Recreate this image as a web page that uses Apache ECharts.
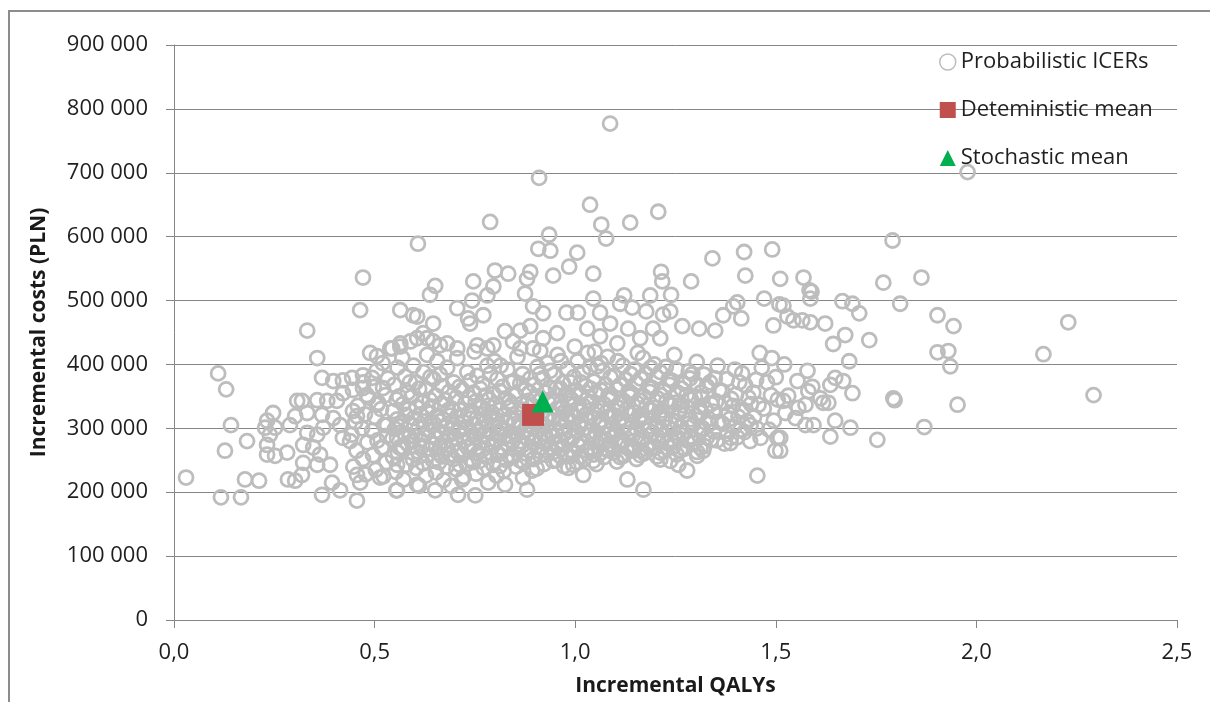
<!DOCTYPE html>
<html>
<head>
<meta charset="utf-8">
<script src="https://cdn.jsdelivr.net/npm/echarts@6/dist/echarts.min.js"></script>
<style>
html, body { margin: 0; padding: 0; background: #fff; }
#main { width: 1210px; height: 702px; }
</style>
</head>
<body>
<div id="main"></div>
<script>
var seriesNames = ['Probabilistic ICERs', 'Deteministic mean', 'Stochastic mean'];

var probLeft = [
    [0.030,223000],[0.110,386000],[0.130,361000],[0.117,192000],[0.127,265000],[0.142,305000],[0.167,192000],[0.177,220000],
    [0.182,280000],[0.212,218000],[0.232,312000],[0.227,301000],[0.239,290000],[0.247,324000],[0.252,301000],[0.232,274000],
    [0.252,257000],[0.232,259000],[0.282,262000],[0.289,305000],[0.307,343000],[0.319,343000],[0.332,324000],[0.302,319000],
    [0.284,220000],[0.302,218000],[0.319,227000],[0.322,246000],[0.322,274000],[0.332,293000],[0.347,270000],[0.357,290000],
    [0.357,410000],[0.332,453000],[0.369,379000],[0.357,344000],[0.369,321000],[0.372,301000],[0.364,259000],[0.357,243000],
    [0.369,196000],[0.389,243000],[0.394,215000],[0.414,203000],[0.397,374000],[0.421,375000],[0.444,379000],[0.421,355000],
    [0.406,343000],[0.382,343000],[0.397,316000],[0.414,305000],[0.421,285000],[0.439,280000],[0.446,327000],[0.456,319000],
    [0.456,227000],[0.464,215000],[0.456,187000],[0.471,383000],[0.471,363000],[0.481,352000],[0.494,379000],[0.489,418000],
    [0.506,413000],[0.539,425000],[0.564,433000],[0.521,363000],[0.506,337000],[0.531,305000],[0.556,285000],[0.521,270000],
    [0.556,243000],[0.514,223000],[0.556,203000],[0.571,270000],[0.589,305000],[0.606,212000]
];
var probUpper = [
    [0.608,589000],[0.471,536000],[0.464,485000],[0.564,485000],[0.596,477000],[0.606,475000],[0.651,523000],[0.638,509000],
    [0.646,464000],[0.621,449000],[0.631,441000],[0.746,530000],[0.800,547000],[0.833,542000],[0.796,522000],[0.781,508000],
    [0.743,500000],[0.706,488000],[0.733,472000],[0.738,464000],[0.771,477000],[0.888,545000],[0.880,534000],[0.908,581000],
    [0.938,578000],[0.945,539000],[0.875,511000],[0.895,491000],[0.920,480000],[0.825,452000],[0.863,453000],[0.888,460000],
    [0.920,441000],[0.955,449000],[0.544,425000],[0.564,428000],[0.589,436000],[0.606,441000],[0.646,436000],[0.663,430000],
    [0.681,433000],[0.706,425000],[0.756,430000],[0.781,425000],[0.796,430000],[0.845,436000],[0.863,425000],[0.895,425000],
    [0.913,421000],[1.087,777000],[0.910,692000],[1.037,650000],[1.065,619000],[1.137,622000],[1.207,639000],[0.788,623000],
    [1.077,597000],[0.935,603000],[1.005,575000],[1.342,566000],[1.421,576000],[1.491,580000],[0.985,553000],[1.045,542000],
    [1.214,545000],[1.217,530000],[1.289,530000],[1.424,539000],[1.511,534000],[1.569,536000],[1.584,516000],[1.589,514000],
    [1.187,508000],[1.239,509000],[1.219,478000],[1.237,483000],[1.267,460000],[1.309,456000],[1.349,453000],[1.369,477000],
    [1.394,491000],[1.404,497000],[1.414,472000],[1.471,503000],[1.509,494000],[1.494,461000],[1.112,495000],[1.045,503000],
    [0.978,481000],[1.007,481000],[1.062,481000],[1.132,456000],[1.162,441000],[1.122,508000],[1.142,489000],[1.177,483000],
    [1.087,464000],[1.030,456000],[1.062,444000],[1.105,433000],[1.194,456000],[1.212,441000]
];
var probRight = [
    [1.978,701000],[1.791,594000],[1.768,528000],[1.863,536000],[1.810,495000],[1.903,477000],[1.943,460000],[1.903,419000],
    [1.930,421000],[1.935,397000],[1.953,337000],[1.870,302000],[1.753,282000],[1.793,347000],[1.796,344000],[1.733,438000],
    [1.673,446000],[1.643,432000],[1.708,480000],[1.691,495000],[1.666,499000],[2.229,466000],[2.167,416000],[2.292,352000],
    [1.586,503000],[1.519,492000],[1.529,475000],[1.544,469000],[1.566,469000],[1.586,466000],[1.623,464000],[1.521,400000],
    [1.579,390000],[1.554,374000],[1.648,379000],[1.668,374000],[1.636,368000],[1.683,405000],[1.691,355000],[1.591,365000],
    [1.581,358000],[1.531,351000],[1.519,343000],[1.611,347000],[1.618,340000],[1.631,340000],[1.574,337000],[1.556,332000],
    [1.524,324000],[1.549,316000],[1.648,312000],[1.574,305000],[1.594,305000],[1.686,301000],[1.636,287000],[1.511,285000],
    [1.511,265000],[1.465,395000],[1.478,372000],[1.488,352000],[1.470,331000],[1.495,312000],[1.483,298000],[1.462,285000],
    [1.490,410000],[1.500,380000],[1.460,418000],[1.505,345000]
];
var probBottom = [
    [0.554,203000],[0.611,210000],[0.651,203000],[0.691,210000],[0.708,196000],[0.751,195000],[0.718,220000],[0.783,215000],
    [0.825,212000],[0.880,204000],[0.893,234000],[0.870,223000],[1.020,227000],[0.983,238000],[1.045,249000],[1.130,220000],
    [1.170,204000],[1.269,270000],[1.319,265000],[1.304,257000],[1.279,234000],[1.257,243000],[1.387,277000],[1.436,280000],
    [1.454,226000],[1.499,265000],[1.504,285000],[1.120,257000],[1.162,266000],[1.080,266000],[1.212,251000],[1.237,249000],
    [0.945,249000],[0.995,243000]
];
var probCore = [
    [0.447,240000],[0.455,265000],[0.443,290000],[0.452,310000],[0.458,335000],[0.446,360000],
    [0.478,228000],[0.471,252000],[0.482,278000],[0.469,300000],[0.476,322000],[0.484,348000],[0.472,372000],
    [0.503,235000],[0.496,258000],[0.507,281000],[0.494,296000],[0.501,318000],[0.509,340000],[0.498,365000],[0.505,390000],
    [0.522,225000],[0.529,247000],[0.518,270000],[0.531,288000],[0.524,305000],[0.516,330000],[0.527,352000],[0.533,378000],[0.520,402000],
    [0.553,232000],[0.546,255000],[0.558,262000],[0.544,283000],[0.551,299000],[0.556,314000],[0.547,327000],[0.555,345000],[0.549,368000],[0.557,395000],
    [0.572,220000],[0.579,243000],[0.568,268000],[0.582,276000],[0.574,292000],[0.566,308000],[0.578,321000],[0.571,338000],[0.583,356000],[0.576,381000],[0.569,410000],
    [0.604,238000],[0.596,251000],[0.607,264000],[0.593,279000],[0.601,287000],[0.609,301000],[0.598,316000],[0.605,333000],[0.592,349000],[0.603,372000],[0.597,398000],
    [0.628,226000],[0.621,245000],[0.632,258000],[0.619,272000],[0.626,290000],[0.634,297000],[0.623,311000],[0.630,326000],[0.618,340000],[0.627,362000],[0.622,388000],[0.631,415000],
    [0.653,231000],[0.646,249000],[0.657,262000],[0.644,275000],[0.651,285000],[0.659,296000],[0.648,307000],[0.655,319000],[0.642,334000],[0.652,351000],[0.647,377000],[0.656,405000],
    [0.672,219000],[0.679,240000],[0.668,256000],[0.682,268000],[0.674,279000],[0.666,291000],[0.678,302000],[0.671,314000],[0.683,328000],[0.676,344000],[0.669,366000],[0.681,395000],
    [0.704,236000],[0.696,252000],[0.707,263000],[0.693,273000],[0.701,284000],[0.709,295000],[0.698,305000],[0.705,318000],[0.692,331000],[0.703,348000],[0.697,372000],[0.706,410000],
    [0.722,224000],[0.729,244000],[0.718,258000],[0.732,270000],[0.724,281000],[0.716,289000],[0.728,299000],[0.721,310000],[0.733,323000],[0.726,339000],[0.719,360000],[0.731,388000],
    [0.753,229000],[0.746,247000],[0.757,261000],[0.744,274000],[0.751,286000],[0.759,296000],[0.748,306000],[0.755,316000],[0.742,327000],[0.752,342000],[0.747,356000],[0.756,382000],[0.749,420000],
    [0.772,238000],[0.779,255000],[0.768,266000],[0.782,277000],[0.774,290000],[0.766,300000],[0.778,311000],[0.771,322000],[0.783,335000],[0.776,351000],[0.769,370000],[0.781,398000],
    [0.804,226000],[0.796,243000],[0.807,259000],[0.793,271000],[0.801,283000],[0.809,294000],[0.798,303000],[0.805,313000],[0.792,325000],[0.803,338000],[0.797,354000],[0.806,377000],[0.799,405000],
    [0.822,233000],[0.829,250000],[0.818,264000],[0.832,276000],[0.824,288000],[0.816,298000],[0.828,309000],[0.821,320000],[0.833,332000],[0.826,347000],[0.819,365000],[0.831,392000],
    [0.853,240000],[0.846,256000],[0.857,268000],[0.844,280000],[0.851,291000],[0.859,301000],[0.848,312000],[0.855,324000],[0.842,337000],[0.852,352000],[0.847,374000],[0.856,412000],
    [0.872,246000],[0.879,260000],[0.868,273000],[0.882,284000],[0.874,295000],[0.866,305000],[0.878,316000],[0.871,329000],[0.883,343000],[0.876,360000],[0.869,385000],
    [0.904,237000],[0.896,252000],[0.907,265000],[0.893,278000],[0.901,289000],[0.909,299000],[0.898,310000],[0.905,322000],[0.892,336000],[0.903,350000],[0.897,368000],[0.906,396000],
    [0.922,244000],[0.929,258000],[0.918,270000],[0.932,282000],[0.924,293000],[0.916,304000],[0.928,315000],[0.921,327000],[0.933,340000],[0.926,356000],[0.919,378000],[0.931,402000],
    [0.953,250000],[0.946,263000],[0.957,275000],[0.944,287000],[0.951,297000],[0.959,308000],[0.948,319000],[0.955,331000],[0.942,346000],[0.952,362000],[0.947,384000],[0.956,415000],
    [0.972,241000],[0.979,256000],[0.968,268000],[0.982,281000],[0.974,292000],[0.966,302000],[0.978,313000],[0.971,325000],[0.983,338000],[0.976,353000],[0.969,371000],[0.981,393000],
    [1.004,247000],[0.996,261000],[1.007,273000],[0.993,285000],[1.001,296000],[1.009,307000],[0.998,318000],[1.005,330000],[0.992,344000],[1.003,359000],[0.997,380000],[1.006,405000],[0.999,428000],
    [1.022,252000],[1.029,265000],[1.018,277000],[1.032,289000],[1.024,300000],[1.016,311000],[1.028,322000],[1.021,335000],[1.033,349000],[1.026,366000],[1.019,388000],[1.031,418000],
    [1.053,244000],[1.046,259000],[1.057,271000],[1.044,283000],[1.051,294000],[1.059,305000],[1.048,316000],[1.055,328000],[1.042,341000],[1.052,355000],[1.047,373000],[1.056,397000],[1.049,420000],
    [1.072,255000],[1.079,268000],[1.068,280000],[1.082,291000],[1.074,302000],[1.066,313000],[1.078,325000],[1.071,338000],[1.083,352000],[1.076,368000],[1.069,390000],[1.081,412000],
    [1.104,248000],[1.096,262000],[1.107,274000],[1.093,286000],[1.101,297000],[1.109,308000],[1.098,320000],[1.105,333000],[1.092,347000],[1.103,362000],[1.097,382000],[1.106,405000],
    [1.122,258000],[1.129,270000],[1.118,282000],[1.132,293000],[1.124,304000],[1.116,316000],[1.128,329000],[1.121,343000],[1.133,358000],[1.126,376000],[1.119,398000],
    [1.153,252000],[1.146,265000],[1.157,277000],[1.144,289000],[1.151,300000],[1.159,312000],[1.148,325000],[1.155,339000],[1.142,354000],[1.152,371000],[1.147,392000],[1.156,418000],
    [1.172,261000],[1.179,274000],[1.168,286000],[1.182,297000],[1.174,309000],[1.166,321000],[1.178,335000],[1.171,350000],[1.183,366000],[1.176,385000],[1.169,410000],
    [1.204,256000],[1.196,269000],[1.207,281000],[1.193,293000],[1.201,305000],[1.209,318000],[1.198,332000],[1.205,347000],[1.192,363000],[1.203,381000],[1.197,400000],
    [1.222,264000],[1.229,277000],[1.218,289000],[1.232,301000],[1.224,314000],[1.216,328000],[1.228,343000],[1.221,359000],[1.233,377000],[1.226,396000],
    [1.253,259000],[1.246,272000],[1.257,285000],[1.244,298000],[1.251,311000],[1.259,325000],[1.248,340000],[1.255,356000],[1.242,374000],[1.252,392000],[1.247,415000],
    [1.272,268000],[1.279,281000],[1.268,294000],[1.282,307000],[1.274,321000],[1.266,336000],[1.278,352000],[1.271,370000],[1.283,389000],
    [1.304,263000],[1.296,277000],[1.307,291000],[1.293,305000],[1.301,319000],[1.309,334000],[1.298,350000],[1.305,368000],[1.292,385000],[1.303,404000],
    [1.322,272000],[1.329,286000],[1.318,300000],[1.332,315000],[1.324,331000],[1.316,348000],[1.328,366000],[1.321,384000],
    [1.353,281000],[1.346,295000],[1.357,310000],[1.344,326000],[1.351,342000],[1.359,360000],[1.348,378000],[1.355,398000],
    [1.372,276000],[1.379,291000],[1.368,307000],[1.382,323000],[1.374,340000],[1.366,358000],[1.378,377000],
    [1.404,286000],[1.396,302000],[1.407,318000],[1.393,335000],[1.401,353000],[1.409,372000],[1.398,392000],
    [1.422,294000],[1.429,311000],[1.418,329000],[1.432,348000],[1.424,367000],[1.416,386000],
    [1.453,300000],[1.446,318000],[1.457,337000],[1.444,356000],[1.451,376000]
];
// second layer in the densest part of the cloud
var probCoreDense = [
    [0.562,270000],[0.587,287000],[0.565,303000],[0.585,330000],[0.561,350000],[0.588,372000],
    [0.612,256000],[0.638,268000],[0.615,282000],[0.641,305000],[0.613,322000],[0.637,345000],[0.611,362000],[0.639,380000],
    [0.661,247000],[0.688,259000],[0.664,272000],[0.687,290000],[0.662,311000],[0.689,320000],[0.665,338000],[0.686,357000],[0.663,384000],
    [0.712,243000],[0.738,252000],[0.714,267000],[0.737,285000],[0.711,300000],[0.739,315000],[0.713,328000],[0.736,348000],[0.712,365000],[0.738,374000],
    [0.762,249000],[0.788,262000],[0.764,278000],[0.787,296000],[0.761,310000],[0.789,318000],[0.765,332000],[0.786,345000],[0.763,362000],[0.788,385000],
    [0.812,241000],[0.838,255000],[0.814,270000],[0.837,288000],[0.811,302000],[0.839,316000],[0.813,329000],[0.836,342000],[0.812,358000],[0.838,372000],[0.814,398000],
    [0.862,250000],[0.888,266000],[0.864,280000],[0.887,292000],[0.861,310000],[0.889,305000],[0.865,338000],[0.886,356000],[0.863,370000],[0.888,378000],
    [0.912,258000],[0.938,270000],[0.914,284000],[0.937,296000],[0.911,306000],[0.939,322000],[0.913,344000],[0.936,364000],[0.912,385000],[0.938,390000],
    [0.962,257000],[0.988,266000],[0.964,280000],[0.987,297000],[0.961,315000],[0.989,322000],[0.965,340000],[0.986,348000],[0.963,362000],[0.988,372000],[0.964,405000],
    [1.012,256000],[1.038,266000],[1.014,282000],[1.037,295000],[1.011,303000],[1.039,318000],[1.013,326000],[1.036,340000],[1.012,352000],[1.038,362000],[1.014,372000],[1.037,395000],
    [1.062,261000],[1.088,275000],[1.064,286000],[1.087,297000],[1.061,310000],[1.089,318000],[1.065,332000],[1.086,345000],[1.063,360000],[1.088,380000],[1.064,402000],
    [1.112,255000],[1.138,266000],[1.114,280000],[1.137,300000],[1.111,313000],[1.139,322000],[1.113,338000],[1.136,350000],[1.112,368000],[1.138,385000],
    [1.162,258000],[1.188,268000],[1.164,282000],[1.187,303000],[1.161,316000],[1.189,328000],[1.165,343000],[1.186,357000],[1.163,378000],[1.188,395000],
    [1.212,262000],[1.238,283000],[1.214,298000],[1.237,308000],[1.211,322000],[1.239,336000],[1.213,352000],[1.236,368000],[1.212,388000],
    [1.262,266000],[1.288,287000],[1.264,302000],[1.287,314000],[1.261,330000],[1.289,345000],[1.265,362000],[1.286,378000],
    [1.312,270000],[1.338,282000],[1.314,296000],[1.337,308000],[1.311,325000],[1.339,338000],[1.313,356000],[1.336,372000],
    [1.388,285000],[1.412,298000],[1.386,315000],[1.414,326000],[1.389,346000],[1.437,305000],[1.438,338000]
];
var deterministicMean = [[0.895, 321000]];
var stochasticMean = [[0.919, 342000]];

var probabilistic = probLeft.concat(probCore, probCoreDense, probUpper, probBottom, probRight);

var myChart = echarts.init(document.getElementById('main'));
var labelFont = { fontFamily: 'Open Sans', fontSize: 22, color: '#1f1f1f' };
var titleFont = { fontFamily: 'Open Sans', fontSize: 21, fontWeight: 'bold', color: '#1a1a1a' };

option = {
    backgroundColor: '#fff',
    animation: false,
    graphic: [{
        type: 'rect',
        shape: { x: 9, y: 11, width: 1400, height: 900 },
        style: { fill: 'none', stroke: '#8c8c8c', lineWidth: 2 },
        silent: true
    }],
    legend: {
        orient: 'vertical',
        left: 934,
        top: 44,
        itemWidth: 16,
        itemHeight: 16,
        itemGap: 22,
        textStyle: { fontFamily: 'Open Sans', fontSize: 22, color: '#1f1f1f', lineHeight: 26 },
        data: [
            { name: seriesNames[0], itemStyle: { borderWidth: 1.5 } },
            seriesNames[1],
            seriesNames[2]
        ]
    },
    grid: { left: 174, right: 33, top: 45, bottom: 79, containLabel: false },
    xAxis: {
        type: 'value',
        min: 0,
        max: 2.5,
        interval: 0.5,
        name: 'Incremental QALYs',
        nameLocation: 'middle',
        nameGap: 56,
        nameTextStyle: titleFont,
        axisLine: { lineStyle: { color: '#868686', width: 1 } },
        axisTick: { show: true, inside: false, length: 8, lineStyle: { color: '#868686' } },
        axisLabel: Object.assign({ margin: 22, formatter: function (v) { return v.toFixed(1).replace('.', ','); } }, labelFont),
        splitLine: { show: false }
    },
    yAxis: {
        type: 'value',
        min: 0,
        max: 900000,
        interval: 100000,
        name: 'Incremental costs (PLN)',
        nameLocation: 'middle',
        nameGap: 124,
        nameTextStyle: titleFont,
        axisLine: { show: true, lineStyle: { color: '#868686', width: 1 } },
        axisTick: { show: true, inside: false, length: 8, lineStyle: { color: '#868686' } },
        axisLabel: Object.assign({ margin: 26, formatter: function (v) {
            return String(v).replace(/\B(?=(\d{3})+(?!\d))/g, ' ');
        } }, labelFont),
        splitLine: { show: true, lineStyle: { color: '#868686', width: 1 } }
    },
    series: [
        {
            name: seriesNames[0],
            type: 'scatter',
            symbol: 'circle',
            symbolSize: 14,
            large: false,
            itemStyle: { color: 'rgba(255,255,255,0)', borderColor: '#bdbdbd', borderWidth: 2.8, opacity: 1 },
            data: probabilistic,
            z: 2
        },
        {
            name: seriesNames[1],
            type: 'scatter',
            symbol: 'rect',
            symbolSize: 22,
            itemStyle: { color: '#c0504d', opacity: 1 },
            data: deterministicMean,
            z: 3
        },
        {
            name: seriesNames[2],
            type: 'scatter',
            symbol: 'triangle',
            symbolSize: 22,
            itemStyle: { color: '#00b050', opacity: 1 },
            data: stochasticMean,
            z: 4
        }
    ]
};
myChart.setOption(option);
</script>
</body>
</html>
